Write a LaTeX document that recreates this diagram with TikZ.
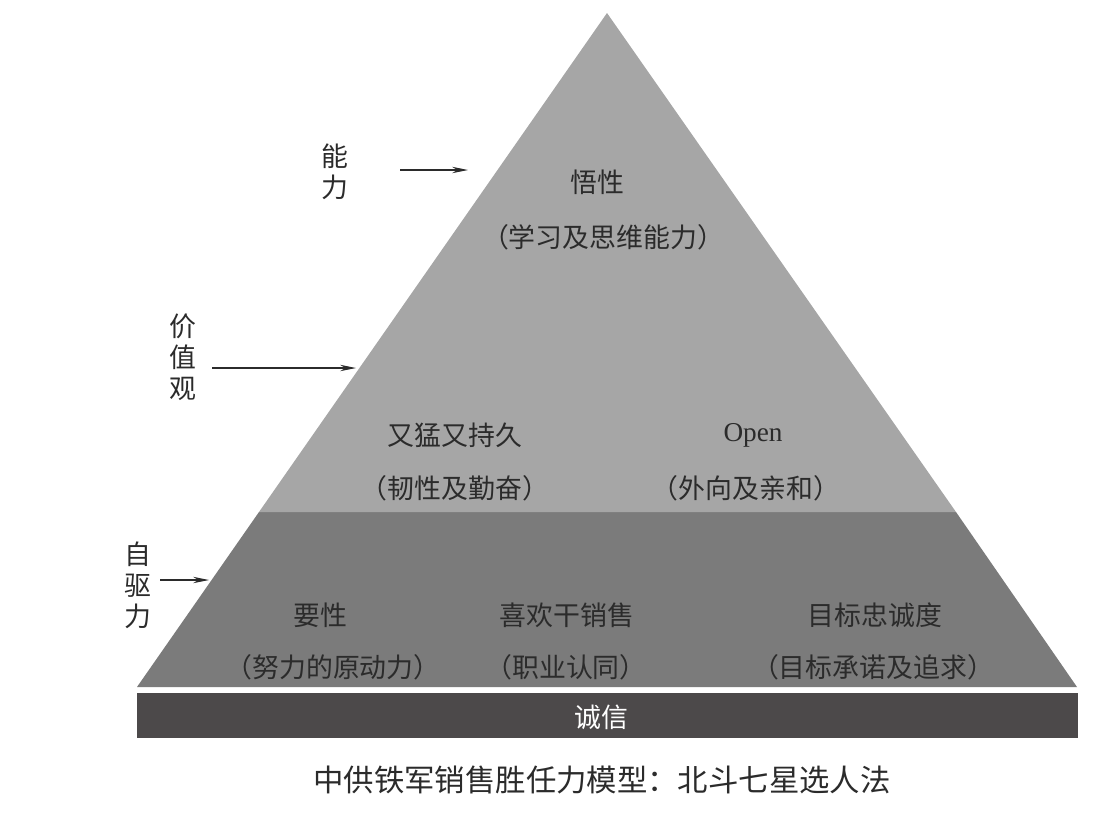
\documentclass[tikz,border=0pt]{standalone}
\usepackage{fontspec}
\usepackage{xcolor}
\usepackage{tikz}
\usetikzlibrary{arrows.meta}
\newfontfamily\cjk{Noto Sans CJK SC}
\newfontfamily\latin{Liberation Serif}
\definecolor{color_top}{rgb}{0.651,0.651,0.651}
\definecolor{color_mid}{rgb}{0.482,0.482,0.482}
\definecolor{color_bar}{rgb}{0.298,0.286,0.290}
\definecolor{color_text}{rgb}{0.17,0.17,0.17}

\begin{document}
\begin{tikzpicture}[x=0.02cm, y=-0.02cm,
		label/.style={font=\cjk\fontsize{15.3}{17.7}\selectfont, text=color_text, align=center, inner sep=0pt},
		pointer/.style={color_text, line width=0.6pt, -{Stealth[length=9pt, width=3.6pt]}}]
		% Cadre de l'image
		\useasboundingbox (0,0) rectangle (1110,832);
		
		% Bande du socle
		\fill[color_bar] (137,693) rectangle (1078,738);
		
		% Trapèze du bas
		\fill[color_mid] (137,687) -- (259,512) -- (956,512) -- (1077,687) -- cycle;
		
		% Triangle du haut
		\fill[color_top] (259,512) -- (607,13) -- (956,512) -- cycle;
		
		% Sommet
		\node[label] (wuxing) at (597,182) {悟性};
		\node[label] (wuxing-sub) at (603,237) {（学习及思维能力）};
		
		% Milieu
		\node[label] (youmeng) at (455,435) {又猛又持久};
		\node[label] (youmeng-sub) at (455,488) {（韧性及勤奋）};
		\node[label, font=\latin\fontsize{15.5}{17.7}\selectfont] (open) at (753,435) {Open};
		\node[label] (open-sub) at (746,488) {（外向及亲和）};
		
		% Bas
		\node[label] (yaoxing) at (320,615) {要性};
		\node[label] (yaoxing-sub) at (333,667) {（努力的原动力）};
		\node[label] (xihuan) at (567,615) {喜欢干销售};
		\node[label] (xihuan-sub) at (566,667) {（职业认同）};
		\node[label] (mubiao) at (875,615) {目标忠诚度};
		\node[label] (mubiao-sub) at (873,667) {（目标承诺及追求）};
		
		% Socle
		\node[label, text=white] (chengxin) at (601,717) {诚信};
		
		% Etiquettes de gauche
		\node[label] (nengli) at (335,172) {能\\力};
		\node[label] (jiazhi) at (183,357) {价\\值\\观};
		\node[label] (ziqu) at (138,585) {自\\驱\\力};
		
		% Flèches
		\coordinate (nengli-from) at (400,170);
		\coordinate (nengli-to) at (468,170);
		\draw[pointer] (nengli-from) -- (nengli-to);
		\coordinate (jiazhi-from) at (212,368);
		\coordinate (jiazhi-to) at (356,368);
		\draw[pointer] (jiazhi-from) -- (jiazhi-to);
		\coordinate (ziqu-from) at (160,580);
		\coordinate (ziqu-to) at (209,580);
		\draw[pointer] (ziqu-from) -- (ziqu-to);
		
		% Titre
		\node[label, font=\cjk\fontsize{17.3}{20}\selectfont] (titre) at (602,780) {中供铁军销售胜任力模型：北斗七星选人法};
	\end{tikzpicture}
\end{document}
